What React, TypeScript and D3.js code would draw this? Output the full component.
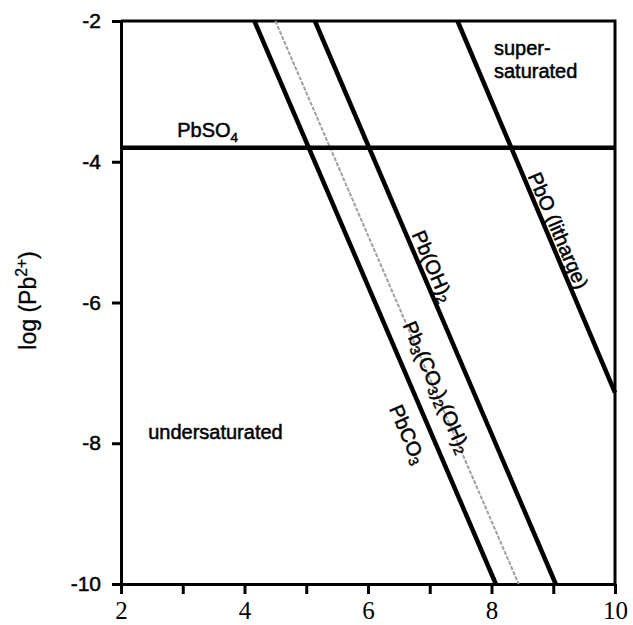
import React, { useRef, useEffect } from "react";
import * as d3 from "d3";

// axis ticks
const phTicks = [2, 3, 4, 5, 6, 7, 8, 9, 10];
const phLabels = [2, 4, 6, 8, 10];
const logTicks = [-2, -4, -6, -8, -10];

// solubility lines (pH, log {Pb2+})
const pbso4 = [
  { ph: 2, log: -3.8 },
  { ph: 10, log: -3.8 },
];
const pbco3 = [
  { ph: 4.16, log: -2 },
  { ph: 8.07, log: -10 },
];
const hydrocerussite = [
  { ph: 4.5, log: -2 },
  { ph: 8.44, log: -10 },
];
const pboh2 = [
  { ph: 5.14, log: -2 },
  { ph: 9.04, log: -10 },
];
const litharge = [
  { ph: 7.45, log: -2 },
  { ph: 10, log: -7.28 },
];

type Pt = { ph: number; log: number };
type Part = [string, string];

const W = 633;
const H = 625;
const plot = { left: 121, right: 615, top: 21, bottom: 584 };

const App = () => {
  const svgRef = useRef<SVGSVGElement>(null);

  useEffect(() => {
    const svg = d3.select(svgRef.current);
    svg.selectAll("*").remove();

    const x = d3.scaleLinear().domain([2, 10]).range([plot.left, plot.right]);
    const y = d3.scaleLinear().domain([-10, -2]).range([plot.bottom, plot.top]);

    // frame top + right
    svg
      .append("path")
      .attr("d", `M${plot.left},${plot.top}H${plot.right}V${plot.bottom}`)
      .attr("fill", "none")
      .attr("stroke", "#000")
      .attr("stroke-width", 3);

    // y axis
    const ya = svg
      .append("g")
      .attr("transform", `translate(${plot.left},0)`)
      .call(
        d3
          .axisLeft(y)
          .tickValues(logTicks)
          .tickSize(9)
          .tickSizeOuter(0)
          .tickPadding(11)
          .tickFormat((d) => String(d))
      );
    ya.select(".domain").attr("stroke-width", 3);
    ya.selectAll(".tick line").attr("stroke-width", 3);
    ya.selectAll(".tick text")
      .attr("font-family", "'Liberation Sans', Arial, sans-serif")
      .attr("font-size", 21)
      .attr("fill", "#000")
      .attr("stroke", "#000")
      .attr("stroke-width", 0.5);

    // x axis
    const xa = svg
      .append("g")
      .attr("transform", `translate(0,${plot.bottom})`)
      .call(
        d3
          .axisBottom(x)
          .tickValues(phTicks)
          .tickSize(10)
          .tickSizeOuter(0)
          .tickPadding(7)
          .tickFormat((d) => (phLabels.includes(+d) ? String(d) : ""))
      );
    xa.select(".domain").attr("stroke-width", 3);
    xa.selectAll(".tick line").attr("stroke-width", 3);
    xa.selectAll(".tick text")
      .attr("font-family", "'Liberation Serif', 'Times New Roman', serif")
      .attr("font-size", 25)
      .attr("fill", "#000");

    const line = d3
      .line<Pt>()
      .x((d) => x(d.ph))
      .y((d) => y(d.log));

    // grey hydrocerussite line
    svg
      .append("path")
      .attr("d", line(hydrocerussite))
      .attr("fill", "none")
      .attr("stroke", "#a0a0a0")
      .attr("stroke-width", 2)
      .attr("stroke-dasharray", "4 1.5");

    [pbso4, pbco3, pboh2, litharge].forEach((pts) => {
      svg
        .append("path")
        .attr("d", line(pts))
        .attr("fill", "none")
        .attr("stroke", "#000")
        .attr("stroke-width", 4.5);
    });

    const font = "'Liberation Sans', Arial, sans-serif";

    const addParts = (t: any, parts: Part[], size: number) => {
      parts.forEach(([s, kind]) => {
        const ts = t.append("tspan").text(s);
        if (kind === "sub") ts.attr("font-size", size * 0.68).attr("dy", 5);
        else if (kind === "sup") ts.attr("font-size", size * 0.68).attr("dy", -9);
        else if (kind === "subend") ts.attr("dy", -5);
        else if (kind === "supend") ts.attr("dy", 9);
      });
    };

    const styleText = (t: any, size: number) =>
      t
        .attr("font-family", font)
        .attr("font-size", size)
        .attr("fill", "#000")
        .attr("stroke", "#000")
        .attr("stroke-width", 0.5);

    // labels along the sloped lines
    const curveLabels: { pts: Pt[]; log: number; off: number; parts: Part[] }[] = [
      { pts: pbco3, log: -7.75, off: 22, parts: [["PbCO", ""], ["3", "sub"]] },
      {
        pts: hydrocerussite,
        log: -7.22,
        off: -3,
        parts: [
          ["Pb", ""], ["3", "sub"], ["(CO", "subend"], ["3", "sub"],
          [")", "subend"], ["2", "sub"], ["(OH)", "subend"], ["2", "sub"],
        ],
      },
      { pts: pboh2, log: -5.55, off: -12, parts: [["Pb(OH)", ""], ["2", "sub"]] },
      { pts: litharge, log: -5.04, off: -11, parts: [["PbO (litharge)", ""]] },
    ];

    curveLabels.forEach((l) => {
      const [p0, p1] = l.pts;
      const t = (l.log - p0.log) / (p1.log - p0.log);
      const ph = p0.ph + t * (p1.ph - p0.ph);
      const ang =
        (Math.atan2(y(p1.log) - y(p0.log), x(p1.ph) - x(p0.ph)) * 180) / Math.PI;
      const g = svg
        .append("g")
        .attr("transform", `translate(${x(ph)},${y(l.log)}) rotate(${ang})`);
      const txt = styleText(
        g
          .append("text")
          .attr("y", l.off)
          .attr("text-anchor", "middle")
          .attr("dominant-baseline", "central"),
        20
      );
      addParts(txt, l.parts, 20);
    });

    // region + PbSO4 labels
    const notes: { ph: number; log: number; parts: Part[] }[] = [
      { ph: 2.91, log: -3.65, parts: [["PbSO", ""], ["4", "sub"]] },
      { ph: 8.04, log: -2.48, parts: [["super-", ""]] },
      { ph: 8.04, log: -2.81, parts: [["saturated", ""]] },
      { ph: 2.44, log: -7.94, parts: [["undersaturated", ""]] },
    ];
    notes.forEach((n) => {
      const txt = styleText(
        svg.append("text").attr("x", x(n.ph)).attr("y", y(n.log)),
        20
      );
      addParts(txt, n.parts, 20);
    });

    // y axis title
    const yt = styleText(
      svg
        .append("text")
        .attr("transform", `translate(36,${(plot.top + plot.bottom) / 2 - 2}) rotate(-90)`)
        .attr("text-anchor", "middle"),
      23
    ).attr("stroke-width", 0.3);
    addParts(yt, [["log (Pb", ""], ["2+", "sup"], [")", "supend"]], 23);
  }, []);

  return (
    <svg
      ref={svgRef}
      width={W}
      height={H}
      style={{ position: "absolute", left: 0, top: 0, background: "#fff" }}
    />
  );
};

export default App;
